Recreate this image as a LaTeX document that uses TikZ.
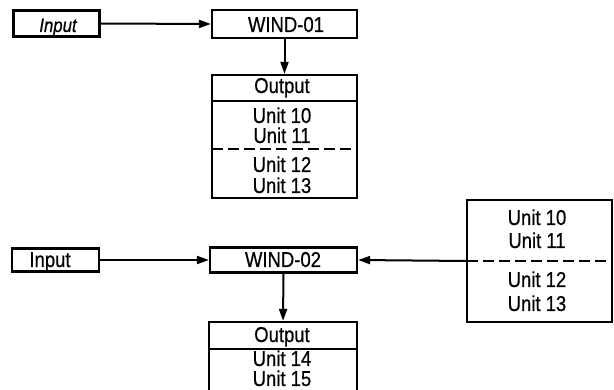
\documentclass[tikz,border=0pt]{standalone}
\usepackage{fontspec}
\setmainfont[FakeStretch=0.86,FakeBold=0.6]{Liberation Sans}
\usetikzlibrary{arrows.meta}
\begin{document}
\begin{tikzpicture}[x=1pt,y=-1pt,
  box/.style={draw,line width=2.2pt,minimum width=#1,inner sep=0pt},
  lbl/.style={anchor=base,inner sep=0pt,font=\fontsize{21.5}{23}\selectfont},
  conn/.style={line width=2pt,-{Triangle[length=12pt,width=8pt]}},
  sep/.style={line width=2pt},
  dsep/.style={line width=2.2pt,dash pattern=on 11pt off 5pt}]
\useasboundingbox (0,0) rectangle (614,390);
\clip (0,0) rectangle (614,390);
% boxes
\node[box=86pt,minimum height=26pt] (in1) at (56.5,23.5) {};
\node[box=145pt,minimum height=28pt] (w1) at (284.5,24) {};
\node[box=145pt,minimum height=123pt] (out1) at (284.5,136.5) {};
\node[box=87pt,minimum height=23pt] (in2) at (55.5,260) {};
\node[box=147pt,minimum height=25pt] (w2) at (283.5,260) {};
\node[box=148pt,minimum height=88pt] (out2) at (283,366) {};
\node[box=145pt,minimum height=122pt] (rb) at (539.5,261) {};
% separators
\coordinate (o1a) at (212,101); \coordinate (o1b) at (357,101);
\coordinate (o1c) at (212,149); \coordinate (o1d) at (357,149);
\coordinate (o2a) at (209,349); \coordinate (o2b) at (357,349);
\coordinate (rba) at (467,261); \coordinate (rbb) at (612,261);
\draw[sep] (o1a) -- (o1b);
\draw[dsep] (o1c) -- (o1d);
\draw[sep] (o2a) -- (o2b);
\draw[dsep] (rba) -- (rbb);
% connectors
\draw[conn] (in1.east) -- (w1.west);
\draw[conn] (w1.south) -- (out1.north);
\draw[conn] (in2.east) -- (w2.west);
\draw[conn] (w2.south) -- (out2.north);
\draw[conn] (rb.west) -- (w2.east);
% labels
\node[lbl,font=\fontsize{19.5}{21}\selectfont\itshape] (t1) at (58,32) {Input};
\node[lbl] (t2) at (286,32) {WIND-01};
\node[lbl] (t3) at (282,93) {Output};
\node[lbl] (t4) at (282,123) {Unit 10};
\node[lbl] (t5) at (282,143) {Unit 11};
\node[lbl] (t6) at (282,172) {Unit 12};
\node[lbl] (t7) at (282,193) {Unit 13};
\node[lbl] (t8) at (50,267) {Input};
\node[lbl] (t9) at (283,267) {WIND-02};
\node[lbl] (t10) at (282,342) {Output};
\node[lbl] (t11) at (282,366) {Unit 14};
\node[lbl] (t12) at (282,386) {Unit 15};
\node[lbl] (t13) at (537,225) {Unit 10};
\node[lbl] (t14) at (537,248) {Unit 11};
\node[lbl] (t15) at (537,287) {Unit 12};
\node[lbl] (t16) at (537,311) {Unit 13};
\end{tikzpicture}
\end{document}
